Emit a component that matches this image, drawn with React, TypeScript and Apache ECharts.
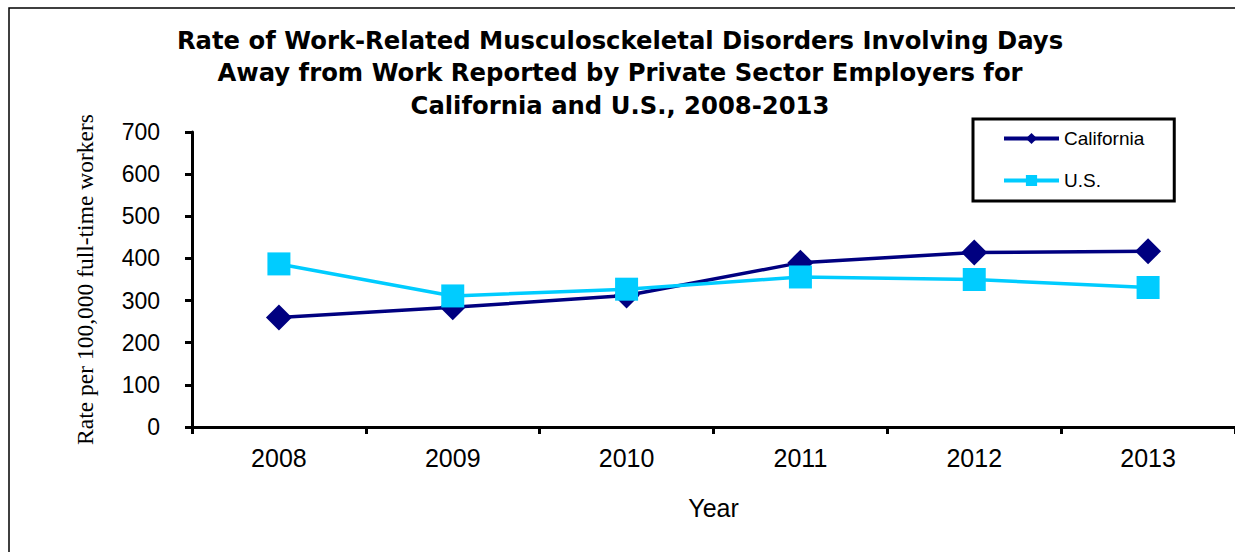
import React, { useEffect, useRef } from "react";
import * as echarts from "echarts";

const years = ["2008", "2009", "2010", "2011", "2012", "2013"];
const california = [260, 284, 312, 390, 414, 417];
const us = [387, 311, 327, 356, 350, 331];
const yTicks = { min: 0, max: 700, interval: 100 };

const titleText =
  "Rate of Work-Related Musculosckeletal Disorders Involving Days\nAway from Work Reported by Private Sector Employers for\nCalifornia and U.S., 2008-2013";

export default function App() {
  const ref = useRef<HTMLDivElement>(null);
  useEffect(() => {
    if (!ref.current) return;
    const chart = echarts.init(ref.current, undefined, { renderer: "svg" });
    chart.setOption({
      animation: false,
      backgroundColor: "#ffffff",
      title: {
        text: titleText,
        left: 620,
        top: 24,
        textAlign: "center",
        padding: 0,
        textStyle: {
          fontFamily: "DejaVu Sans",
          fontWeight: "bold",
          fontSize: 24.3,
          lineHeight: 32.5,
          color: "#000",
        },
      },
      graphic: [
        {
          type: "rect",
          shape: { x: 9, y: 8, width: 1400, height: 800 },
          style: { fill: "none", stroke: "#000", lineWidth: 1.5 },
          silent: true,
          z: 100,
        },
      ],
      legend: {
        orient: "vertical",
        left: 973,
        top: 119,
        padding: [10, 30, 11, 29],
        itemGap: 23,
        itemWidth: 55,
        itemHeight: 14,
        borderColor: "#000",
        borderWidth: 3,
        backgroundColor: "#fff",
        lineStyle: { width: 4 },
        textStyle: { fontFamily: "Liberation Sans", fontSize: 19, color: "#000" },
        data: [
          { name: "California", lineStyle: { width: 4 } },
          { name: "U.S.", lineStyle: { width: 4 } },
        ],
      },
      grid: { left: 192, right: -2, top: 132, bottom: 125, containLabel: false },
      xAxis: {
        type: "category",
        data: years,
        boundaryGap: true,
        name: "Year",
        nameLocation: "middle",
        nameGap: 68,
        nameTextStyle: { fontFamily: "Liberation Sans", fontSize: 25, color: "#000" },
        axisLine: { lineStyle: { color: "#000", width: 3 } },
        axisTick: { show: true, length: 7, lineStyle: { color: "#000", width: 3 } },
        axisLabel: { fontFamily: "Liberation Sans", fontSize: 25, color: "#000", margin: 18 },
        splitLine: { show: false },
      },
      yAxis: {
        type: "value",
        min: yTicks.min,
        max: yTicks.max,
        interval: yTicks.interval,
        name: "Rate per 100,000 full-time workers",
        nameLocation: "middle",
        nameGap: 95,
        nameTextStyle: { fontFamily: "Liberation Serif", fontSize: 23.5, color: "#000" },
        axisLine: { show: true, lineStyle: { color: "#000", width: 3 } },
        axisTick: { show: true, length: 7, lineStyle: { color: "#000", width: 3 } },
        axisLabel: { fontFamily: "Liberation Sans", fontSize: 23, color: "#000", margin: 32 },
        splitLine: { show: false },
      },
      series: [
        {
          name: "California",
          type: "line",
          data: california,
          color: "#000080",
          lineStyle: { color: "#000080", width: 3.5 },
          itemStyle: { color: "#000080" },
          symbol: "diamond",
          symbolSize: 26,
          z: 2,
        },
        {
          name: "U.S.",
          type: "line",
          data: us,
          color: "#00CCFF",
          lineStyle: { color: "#00CCFF", width: 3.5 },
          itemStyle: { color: "#00CCFF" },
          symbol: "rect",
          symbolSize: 23,
          z: 3,
        },
      ],
    });
    return () => chart.dispose();
  }, []);
  return (
    <div
      ref={ref}
      style={{ position: "fixed", left: 0, top: 0, width: 1235, height: 552, background: "#fff" }}
    />
  );
}
